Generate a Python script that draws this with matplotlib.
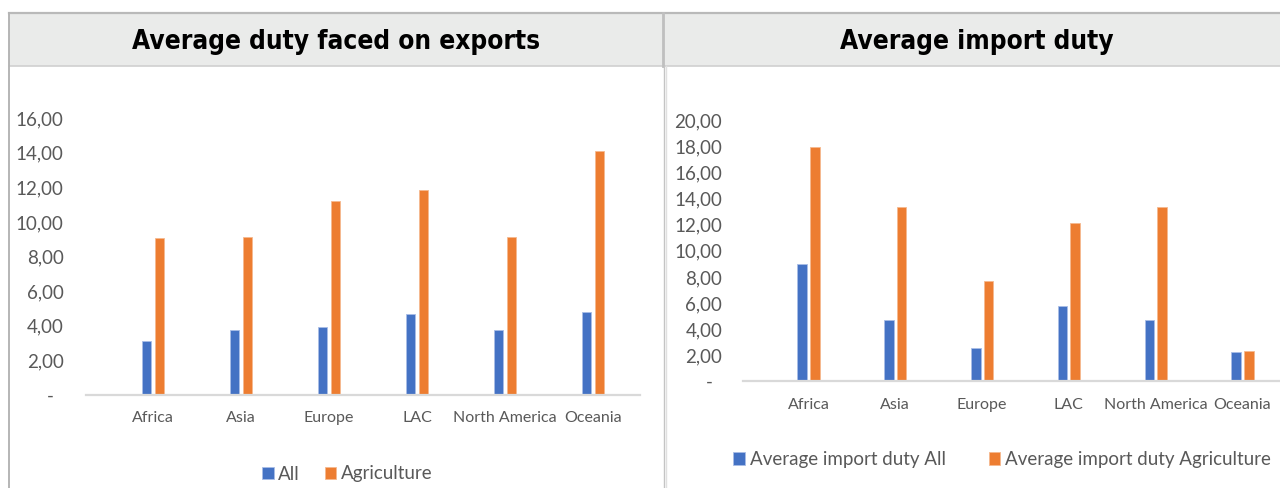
import matplotlib
matplotlib.use("Agg")
import matplotlib.pyplot as plt
from matplotlib.lines import Line2D
from matplotlib.patches import Rectangle
from matplotlib import font_manager
import numpy as np

categories = ["Africa", "Asia", "Europe", "LAC", "North America", "Oceania"]

export_all = [3.10, 3.76, 3.91, 4.67, 3.76, 4.77]
export_agri = [9.05, 9.15, 11.22, 11.87, 9.15, 14.10]

import_all = [8.96, 4.66, 2.51, 5.74, 4.66, 2.20]
import_agri = [17.95, 13.34, 7.66, 12.16, 13.34, 2.30]

left_title = "Average duty faced on exports"
right_title = "Average import duty"
left_legend = ["All", "Agriculture"]
right_legend = ["Average import duty All", "Average import duty Agriculture"]
left_yticks = [0, 2, 4, 6, 8, 10, 12, 14, 16]
right_yticks = [0, 2, 4, 6, 8, 10, 12, 14, 16, 18, 20]

BLUE = "#4472C4"
ORANGE = "#ED7D31"
GREY_TXT = "#595959"
FONT = "Lato"

# pick a condensed bold face for the titles
_fonts = font_manager.fontManager.ttflist
if any(f.name == "Liberation Sans Narrow" for f in _fonts):
    title_kw = dict(family="Liberation Sans Narrow", fontsize=21.5)
elif any(f.name == "DejaVu Sans" and "condensed" in str(f.stretch) for f in _fonts) or \
        any("Condensed" in f.fname and "DejaVuSans" in f.fname for f in _fonts):
    title_kw = dict(family="DejaVu Sans", fontstretch="condensed", fontsize=18.8)
else:
    title_kw = dict(family="DejaVu Sans", fontsize=17)

W, H = 1280, 488
fig = plt.figure(figsize=(W / 100, H / 100), dpi=100)
fig.patch.set_facecolor("white")


def fx(px):
    return px / W


def fy(py):
    return 1 - py / H


# header band
fig.add_artist(Rectangle((fx(9), fy(66)), fx(1280 - 9), (66 - 12.5) / H,
                         transform=fig.transFigure, facecolor="#eaebea",
                         edgecolor="none", zorder=0))
lines = [
    ((9, 1280), (12.5, 12.5), "#b9b9b9", 1.6),
    ((9, 1280), (66, 66), "#d0d0d0", 1.2),
    ((8.5, 8.5), (12.5, 488), "#b5b5b5", 1.4),
    ((663, 663), (12.5, 66), "#bfbfbf", 2.0),
    ((663.5, 663.5), (66, 488), "#c4c4c4", 1.0),
    ((666, 666), (66, 488), "#e0e0e0", 1.0),
]
for xs, ys, c, lw in lines:
    fig.add_artist(Line2D([fx(v) for v in xs], [fy(v) for v in ys],
                          transform=fig.transFigure, color=c, lw=lw, zorder=1))

fig.text(fx(336), fy(42), left_title, ha="center", va="center",
         fontweight="bold", color="black", **title_kw)
fig.text(fx(977), fy(42), right_title, ha="center", va="center",
         fontweight="bold", color="black", **title_kw)


def fmt(v):
    return "-  " if v == 0 else f"{v:.2f}".replace(".", ",")


def make_axes(rect, all_vals, agri_vals, yticks, xlim, ylim, labels,
              legend_center, colspacing):
    ax = fig.add_axes(rect)
    x = np.arange(len(categories))
    w = 0.11
    off = 0.073
    b1 = ax.bar(x - off, all_vals, width=w, color=BLUE, edgecolor="#a9bde6",
                linewidth=0.6, label=labels[0])
    b2 = ax.bar(x + off, agri_vals, width=w, color=ORANGE, edgecolor="#f5b98f",
                linewidth=0.6, label=labels[1])
    ax.set_xlim(*xlim)
    ax.set_ylim(*ylim)
    ax.set_yticks(yticks)
    ax.set_yticklabels([fmt(v) for v in yticks], family=FONT, fontsize=13.5,
                       color=GREY_TXT)
    ax.set_xticks(x)
    ax.set_xticklabels(categories, family=FONT, fontsize=11.5, color=GREY_TXT)
    ax.tick_params(axis="both", length=0)
    ax.tick_params(axis="x", pad=12)
    for s in ["top", "right", "left"]:
        ax.spines[s].set_visible(False)
    ax.spines["bottom"].set_color("#d9d9d9")
    ax.spines["bottom"].set_linewidth(1.6)
    ax.set_facecolor("none")
    fig.legend(handles=[b1, b2], labels=labels, loc="center",
               bbox_to_anchor=legend_center, frameon=False, ncol=2,
               prop={"family": FONT, "size": 13.5},
               handlelength=0.63, handleheight=0.63, handletextpad=0.23,
               columnspacing=colspacing, borderpad=0, borderaxespad=0,
               labelcolor=GREY_TXT)
    return ax


ax1 = make_axes([fx(86), fy(394.5), fx(640 - 86), (394.5 - 118.3) / H],
                export_all, export_agri, left_yticks,
                (-0.761, 5.534), (0, 16), left_legend,
                (fx(347), fy(474)), 1.33)
ax1.tick_params(axis="y", pad=16)

ax2 = make_axes([fx(743), fy(381), fx(1280 - 743), (381 - 120.7) / H],
                import_all, import_agri, right_yticks,
                (-0.755, 5.432), (0, 20), right_legend,
                (fx(1002), fy(459.5)), 2.3)
ax2.tick_params(axis="y", pad=15)

fig.savefig("out.png", dpi=100)
